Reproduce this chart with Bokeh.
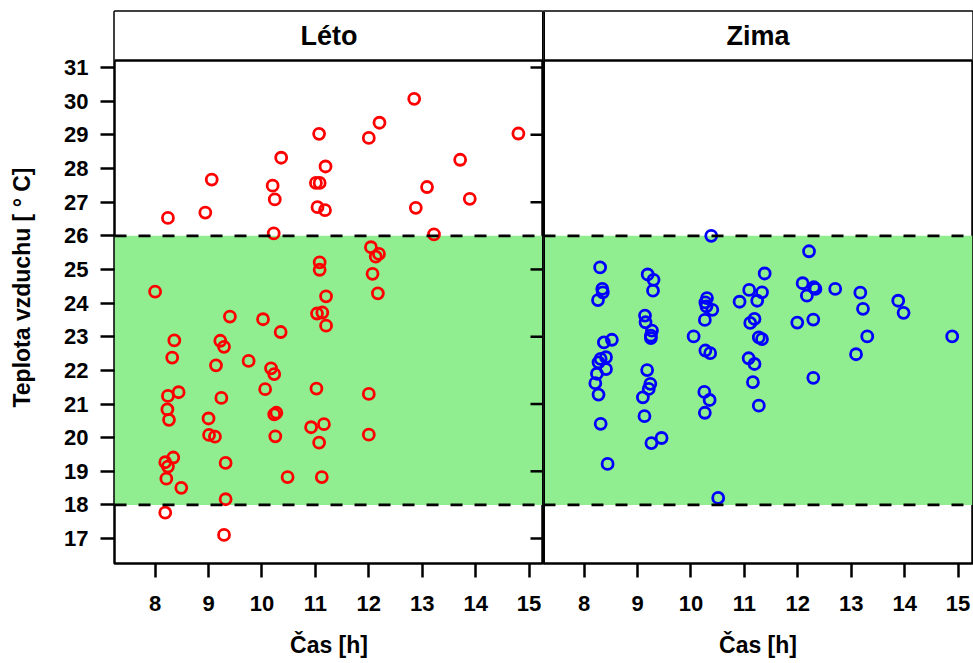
from bokeh.plotting import figure
from bokeh.layouts import row
from bokeh.models import Span, FixedTicker, ColumnDataSource
from bokeh.core.properties import value
from bokeh.embed import file_html
from bokeh.resources import INLINE

# ---------------- data ----------------
panel_names = ["Léto", "Zima"]

leto_time = [8.00, 8.24, 8.94, 9.06, 10.20, 10.24, 10.22, 10.36, 11.07, 11.01, 11.08, 11.19, 11.04, 11.18,
             12.85, 12.20, 12.00, 14.80, 13.71, 13.09, 13.89, 12.88, 13.22, 12.04, 12.13, 12.19, 12.07, 12.17,
             8.36, 8.32, 8.24, 8.44, 8.23, 8.26, 9.40, 9.22, 9.29, 9.14, 9.24, 9.00, 9.01, 9.12,
             10.02, 10.35, 9.75, 10.17, 10.23, 10.06, 10.23, 10.27, 10.25, 11.08, 11.08, 11.20, 11.03, 11.13,
             11.20, 11.02, 10.92, 11.16, 11.07, 12.00, 12.00, 8.19, 8.24, 8.34, 8.21, 8.49, 8.19, 9.32,
             9.32, 9.29, 10.48, 11.12]
leto_temp = [24.34, 26.53, 26.69, 27.67, 27.49, 27.08, 26.07, 28.32, 29.03, 27.57, 27.57, 28.06, 26.85, 26.76,
             30.07, 29.36, 28.91, 29.04, 28.26, 27.45, 27.10, 26.83, 26.04, 25.66, 25.38, 25.46, 24.87, 24.29,
             22.89, 22.38, 21.24, 21.35, 20.84, 20.53, 23.60, 22.88, 22.70, 22.15, 21.18, 20.57, 20.08, 20.03,
             23.52, 23.14, 22.28, 22.06, 21.89, 21.44, 20.69, 20.74, 20.04, 25.21, 24.99, 24.20, 23.69, 23.72,
             23.33, 21.46, 20.31, 20.40, 19.85, 21.30, 20.09, 19.27, 19.14, 19.41, 18.78, 18.51, 17.77, 19.25,
             18.17, 17.11, 18.83, 18.83]

zima_time = [10.38, 8.30, 8.34, 8.35, 8.26, 9.19, 9.30, 9.29, 9.14, 9.15, 9.27, 9.25, 9.25,
             10.30, 10.27, 10.29, 10.40, 10.26, 10.05, 10.27, 10.36, 8.37, 8.52, 8.31, 8.41, 8.27, 8.41,
             8.24, 8.21, 8.27, 9.18, 9.24, 9.21, 9.10, 9.13, 10.25, 10.35, 10.26, 11.09, 10.91, 11.24,
             11.11, 11.19, 11.38, 11.27, 11.33, 11.08, 11.19, 11.16, 11.27, 12.21, 12.09, 12.30, 12.33,
             12.17, 12.70, 11.33, 13.17, 13.22, 13.88, 13.98, 11.99, 12.29, 13.30, 14.89, 13.09, 12.29,
             8.31, 9.26, 9.45, 8.44, 10.51]
zima_temp = [26.00, 25.06, 24.42, 24.32, 24.09, 24.85, 24.69, 24.37, 23.63, 23.43, 23.18, 23.03, 22.96,
             24.15, 24.02, 23.90, 23.80, 23.50, 23.01, 22.59, 22.51, 22.83, 22.91, 22.34, 22.39, 22.24, 22.04,
             21.90, 21.62, 21.28, 22.01, 21.60, 21.45, 21.20, 20.64, 21.36, 21.12, 20.74, 24.39, 24.04, 24.07,
             23.41, 23.53, 24.88, 22.98, 22.93, 22.36, 22.19, 21.65, 20.95, 25.54, 24.59, 24.47, 24.42,
             24.22, 24.42, 24.32, 24.31, 23.83, 24.07, 23.71, 23.42, 23.51, 23.01, 23.01, 22.48, 21.78,
             20.41, 19.84, 19.99, 19.22, 18.21]

comfort_low = 18
comfort_high = 26
x_ticks = [8, 9, 10, 11, 12, 13, 14, 15]
y_ticks = [17, 18, 19, 20, 21, 22, 23, 24, 25, 26, 27, 28, 29, 30, 31]
y_ticks_right = [17, 19, 21, 23, 25, 27, 29, 31]

# ---------------- layout ----------------
FONT = "Liberation Sans"
X_LO, X_HI = 7.24, 15.27
Y_LO, Y_PANEL_TOP = 16.26, 31.21
PANEL_PX = 503
STRIP_PX = 49
FRAME_W = 429
px_per_deg = PANEL_PX / (Y_PANEL_TOP - Y_LO)
Y_HI = Y_PANEL_TOP + STRIP_PX / px_per_deg
px_per_h = FRAME_W / (X_HI - X_LO)


def make_panel(name, xs, ys, color, left):
    w = FRAME_W + (114 if left else 1)
    p = figure(width=w, height=663, x_range=(X_LO, X_HI), y_range=(Y_LO, Y_HI),
               output_backend="svg", toolbar_location=None,
               min_border_top=11, min_border_bottom=100,
               min_border_left=114 if left else 0, min_border_right=0 if left else 1)
    p.xgrid.visible = False
    p.ygrid.visible = False
    p.background_fill_color = "white"
    p.border_fill_color = "white"
    p.outline_line_color = "black"
    p.outline_line_width = 2.5

    # comfort band
    p.quad(left=X_LO, right=X_HI, bottom=comfort_low, top=comfort_high,
           fill_color="#90EE90", line_color=None)
    for lv in (comfort_low, comfort_high):
        p.add_layout(Span(location=lv, dimension="width", line_color="black",
                          line_width=2.8, line_dash="12 12"))

    # points
    src = ColumnDataSource(dict(x=xs, y=ys))
    p.scatter("x", "y", source=src, marker="circle", size=11,
              fill_color=None, line_color=color, line_width=2.8)

    # strip
    p.quad(left=X_LO, right=X_HI, bottom=Y_PANEL_TOP, top=Y_HI,
           fill_color="white", line_color=None)
    p.add_layout(Span(location=Y_PANEL_TOP, dimension="width", line_color="black",
                      line_width=2.5))
    p.text(x=[(X_LO + X_HI) / 2], y=[(Y_PANEL_TOP + Y_HI) / 2], text=[name],
           text_font=value(FONT), text_font_style="bold", text_font_size="27px",
           text_align="center", text_baseline="middle", text_color="black")

    # divider between the two panels
    p.add_layout(Span(location=X_HI if left else X_LO, dimension="height",
                      line_color="black", line_width=3))

    # x axis
    ax = p.xaxis[0]
    ax.ticker = FixedTicker(ticks=x_ticks)
    ax.axis_line_color = None
    ax.major_tick_line_width = 2.5
    ax.major_tick_line_color = "black"
    ax.major_tick_out = 14
    ax.major_tick_in = 0
    ax.minor_tick_line_color = None
    ax.major_label_text_font = FONT
    ax.major_label_text_font_style = "bold"
    ax.major_label_text_font_size = "22px"
    ax.major_label_text_color = "black"
    ax.major_label_standoff = 18
    ax.axis_label = "Čas [h]"
    ax.axis_label_text_font = FONT
    ax.axis_label_text_font_style = "bold"
    ax.axis_label_text_font_size = "23px"
    ax.axis_label_text_color = "black"
    ax.axis_label_standoff = 18

    if left:
        ay = p.yaxis[0]
        ay.ticker = FixedTicker(ticks=y_ticks)
        ay.axis_line_color = None
        ay.major_tick_line_width = 2.5
        ay.major_tick_line_color = "black"
        ay.major_tick_out = 14
        ay.major_tick_in = 0
        ay.minor_tick_line_color = None
        ay.major_label_text_font = FONT
        ay.major_label_text_font_style = "bold"
        ay.major_label_text_font_size = "22px"
        ay.major_label_text_color = "black"
        ay.major_label_standoff = 12
        ay.axis_label = "Teplota vzduchu [ ° C]"
        ay.axis_label_text_font = FONT
        ay.axis_label_text_font_style = "bold"
        ay.axis_label_text_font_size = "23px"
        ay.axis_label_text_color = "black"
        ay.axis_label_standoff = 26
        # inner ticks on the right edge (alternating)
        tick_len = 13 / px_per_h
        p.segment(x0=[X_HI - tick_len] * len(y_ticks_right), x1=[X_HI] * len(y_ticks_right),
                  y0=y_ticks_right, y1=y_ticks_right, line_color="black", line_width=2.5)
    else:
        p.yaxis.visible = False
    return p


p1 = make_panel(panel_names[0], leto_time, leto_temp, "#FF0000", True)
p2 = make_panel(panel_names[1], zima_time, zima_temp, "#0000FF", False)

layout = row(p1, p2, spacing=0)
open("out.html", "w").write(file_html(layout, INLINE))
